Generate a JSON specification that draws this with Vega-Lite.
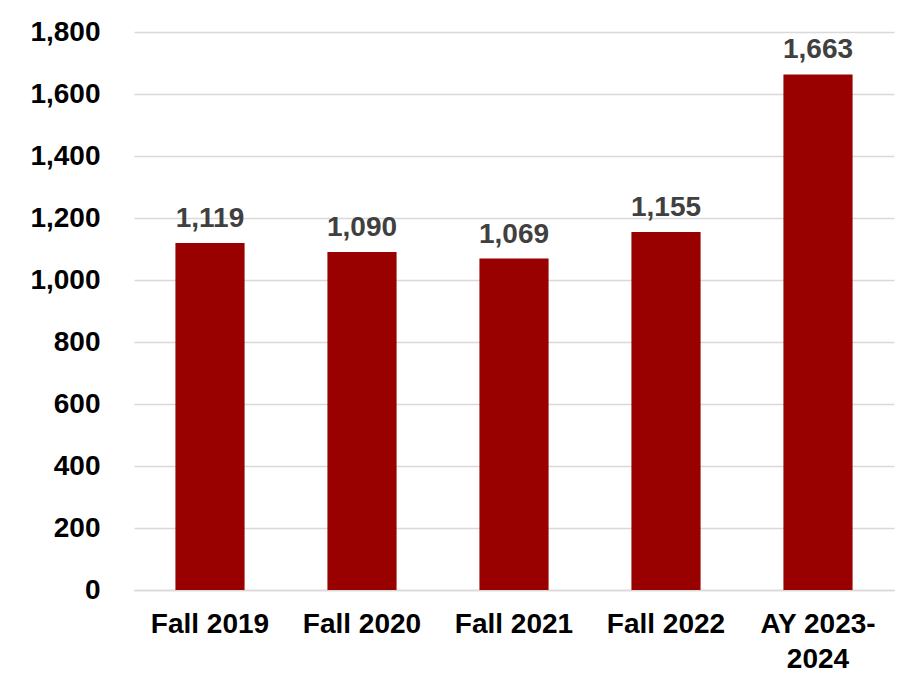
{
  "$schema": "https://vega.github.io/schema/vega-lite/v6.json",
  "width": 760,
  "height": 558,
  "autosize": "none",
  "padding": {"left": 134, "top": 32, "right": 9, "bottom": 95},
  "background": "white",
  "config": {
    "view": {"stroke": null},
    "font": "Liberation Sans"
  },
  "data": {
    "values": [
      {"term": "Fall 2019", "count": 1119},
      {"term": "Fall 2020", "count": 1090},
      {"term": "Fall 2021", "count": 1069},
      {"term": "Fall 2022", "count": 1155},
      {"term": "AY 2023-2024", "count": 1663}
    ]
  },
  "encoding": {
    "x": {
      "field": "term",
      "type": "nominal",
      "sort": null,
      "scale": {"paddingInner": 0.545, "paddingOuter": 0.2725},
      "axis": {
        "title": null,
        "labelAngle": 0,
        "labelFont": "Liberation Sans",
        "labelFontWeight": "bold",
        "labelFontSize": 28,
        "labelColor": "#000000",
        "labelPadding": 20,
        "labelLineHeight": 35,
        "labelExpr": "datum.label == 'AY 2023-2024' ? ['AY 2023-', '2024'] : datum.label",
        "ticks": false,
        "domain": true,
        "domainColor": "#d9d9d9",
        "domainWidth": 1.5,
        "grid": false
      }
    },
    "y": {
      "field": "count",
      "type": "quantitative",
      "scale": {"domain": [0, 1800], "nice": false},
      "axis": {
        "title": null,
        "values": [0, 200, 400, 600, 800, 1000, 1200, 1400, 1600, 1800],
        "labelExpr": "format(datum.value, ',.0f')",
        "labelFont": "Liberation Sans",
        "labelFontWeight": "bold",
        "labelFontSize": 28,
        "labelColor": "#000000",
        "labelPadding": 34,
        "ticks": false,
        "domain": false,
        "grid": true,
        "gridColor": "#d9d9d9",
        "gridWidth": 1.5
      }
    }
  },
  "layer": [
    {"mark": {"type": "bar", "color": "#990000"}},
    {
      "mark": {
        "type": "text",
        "baseline": "alphabetic",
        "dy": -16,
        "font": "Liberation Sans",
        "fontWeight": "bold",
        "fontSize": 28,
        "color": "#404040"
      },
      "encoding": {
        "text": {"field": "count", "type": "quantitative", "format": ",.0f"}
      }
    }
  ]
}
